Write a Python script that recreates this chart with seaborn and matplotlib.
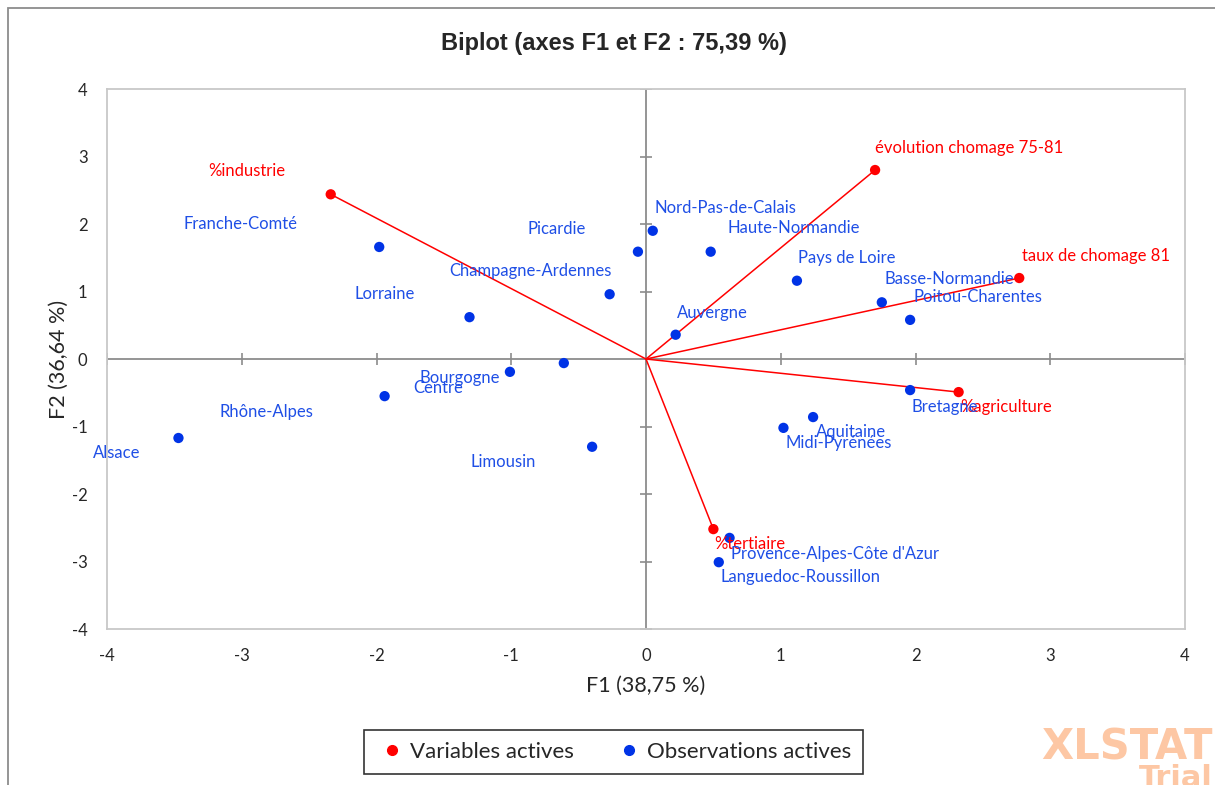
import matplotlib
matplotlib.use("Agg")
import matplotlib.pyplot as plt
from matplotlib.lines import Line2D
from matplotlib.patches import Rectangle
import pandas as pd
import seaborn as sns

# variables actives (coordonnées des flèches)
var_names = ["%industrie", "évolution chomage 75-81", "taux de chomage 81",
             "%agriculture", "%tertiaire"]
var_f1 = [-2.34, 1.70, 2.77, 2.32, 0.50]
var_f2 = [2.44, 2.80, 1.20, -0.49, -2.52]
var_lab_x = [-2.96, 2.40, 3.34, 2.67, 0.77]
var_lab_y = [2.79, 3.13, 1.53, -0.71, -2.74]

# observations actives (régions)
obs_names = ["Alsace", "Rhône-Alpes", "Franche-Comté", "Lorraine", "Centre",
             "Bourgogne", "Limousin", "Champagne-Ardennes", "Picardie",
             "Nord-Pas-de-Calais", "Haute-Normandie", "Auvergne", "Pays de Loire",
             "Basse-Normandie", "Poitou-Charentes", "Bretagne", "Aquitaine",
             "Midi-Pyrénées", "Provence-Alpes-Côte d'Azur", "Languedoc-Roussillon"]
obs_f1 = [-3.47, -1.94, -1.98, -1.31, -1.01, -0.61, -0.40, -0.27, -0.06,
          0.05, 0.48, 0.22, 1.12, 1.75, 1.96, 1.96, 1.24, 1.02, 0.62, 0.54]
obs_f2 = [-1.17, -0.55, 1.66, 0.62, -0.19, -0.06, -1.30, 0.96, 1.59,
          1.90, 1.59, 0.36, 1.16, 0.84, 0.58, -0.46, -0.86, -1.02, -2.65, -3.01]
obs_lab_x = [-3.93, -2.82, -3.01, -1.94, -1.54, -1.38, -1.06, -0.86, -0.66,
             0.59, 1.10, 0.49, 1.49, 2.25, 2.46, 2.22, 1.52, 1.43, 1.40, 1.15]
obs_lab_y = [-1.39, -0.79, 2.00, 0.96, -0.43, -0.28, -1.53, 1.30, 1.93,
             2.24, 1.94, 0.68, 1.50, 1.19, 0.92, -0.71, -1.08, -1.24, -2.89, -3.23]

ticks = [-4, -3, -2, -1, 0, 1, 2, 3, 4]

RED = "#FF0000"
BLUE = "#0033E6"
LBLUE = "#1F4FE6"

sns.set_style("white")
plt.rcParams["font.family"] = ["Lato", "DejaVu Sans"]
plt.rcParams["axes.unicode_minus"] = False

df = pd.concat([
    pd.DataFrame({"F1": var_f1, "F2": var_f2, "type": "Variables actives"}),
    pd.DataFrame({"F1": obs_f1, "F2": obs_f2, "type": "Observations actives"}),
])

fig = plt.figure(figsize=(12.15, 7.85), dpi=100)
ax = fig.add_axes([0.0881, 0.1987, 0.8872, 0.6879])

# axes passant par l'origine
ax.axhline(0, color="#8c8c8c", lw=1.3, zorder=1)
ax.axvline(0, color="#8c8c8c", lw=1.3, zorder=1)
ax.plot(ticks, [0] * len(ticks), ls="none", marker="|", ms=8, mew=1.2,
        color="#8c8c8c", zorder=1)
ax.plot([0] * len(ticks), ticks, ls="none", marker="_", ms=8, mew=1.2,
        color="#8c8c8c", zorder=1)

# flèches des variables
for x, y in zip(var_f1, var_f2):
    ax.plot([0, x], [0, y], color=RED, lw=1.1, zorder=2)

sns.scatterplot(data=df, x="F1", y="F2", hue="type",
                palette={"Variables actives": RED, "Observations actives": BLUE},
                s=55, edgecolor="none", legend=False, ax=ax, zorder=3)

for name, x, y in zip(var_names, var_lab_x, var_lab_y):
    ax.text(x, y, name, color=RED, fontsize=12, ha="center", va="center", zorder=4)
for name, x, y in zip(obs_names, obs_lab_x, obs_lab_y):
    ax.text(x, y, name, color=LBLUE, fontsize=12, ha="center", va="center", zorder=4)

ax.set_xlim(-4, 4)
ax.set_ylim(-4, 4)
ax.set_xticks(ticks)
ax.set_yticks(ticks)
ax.tick_params(length=0, labelsize=12, pad=14)
for s in ax.spines.values():
    s.set_color("#c8c8c8")
    s.set_linewidth(1.3)

ax.set_xlabel("F1 (38,75 %)", fontsize=15.5, labelpad=8)
ax.set_ylabel("F2 (36,64 %)", fontsize=15.5, labelpad=2)
fig.text(0.505, 0.944, "Biplot (axes F1 et F2 : 75,39 %)", ha="center", va="center",
         fontsize=17, fontweight="bold", family=["Liberation Sans", "DejaVu Sans"])

handles = [
    Line2D([], [], ls="none", marker="o", ms=7, color=RED, label="Variables actives"),
    Line2D([], [], ls="none", marker="o", ms=7, color=BLUE, label="Observations actives"),
]
leg = fig.legend(handles=handles, loc="center", bbox_to_anchor=(0.505, 0.042),
                 ncol=2, fontsize=16, frameon=True, fancybox=False,
                 handletextpad=0.1, columnspacing=1.8, borderpad=0.55,
                 handlelength=1.4)
leg.get_frame().set_edgecolor("black")
leg.get_frame().set_linewidth(1.2)

# cadre du graphique
fig.patches.append(Rectangle((0.0066, -0.02), 1.0, 1.0098, transform=fig.transFigure,
                             fill=False, edgecolor="#8c8c8c", lw=1.3))

# filigrane
fig.text(0.998, 0.048, "XLSTAT", ha="right", va="center", color="#FDC7A4",
         fontsize=30, fontweight="heavy", family=["DejaVu Sans"])
fig.text(0.998, 0.008, "Trial", ha="right", va="center", color="#FDC7A4",
         fontsize=22, fontweight="heavy", family=["DejaVu Sans"])

fig.savefig("out.png", dpi=100)
